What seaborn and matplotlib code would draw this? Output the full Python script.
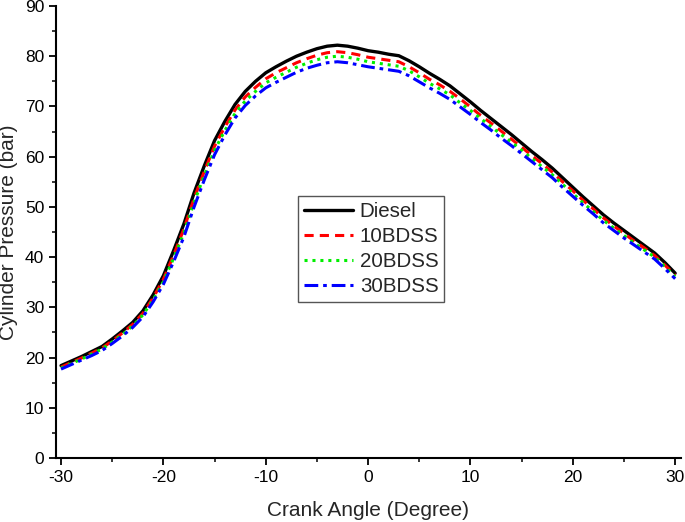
"""
Cylinder pressure vs crank angle for diesel and BDSS blends
"""
import matplotlib
matplotlib.use("Agg")
import matplotlib.pyplot as plt
import seaborn as sns
import pandas as pd

# crank angle (degree), -30 .. 30 in steps of 1
crank_angle = list(range(-30, 31))

# cylinder pressure (bar)
diesel = [18.4, 19.3, 20.2, 21.2, 22.2, 23.7, 25.3, 27.0, 29.3, 32.5,
          36.3, 41.3, 46.6, 52.8, 58.2, 63.2, 67.0, 70.4, 73.0, 75.0,
          76.7, 77.9, 79.0, 80.0, 80.8, 81.5, 82.0, 82.2, 82.0, 81.6,
          81.1, 80.8, 80.4, 80.1, 79.1, 77.9, 76.6, 75.4, 74.1, 72.5,
          70.9, 69.2, 67.6, 66.0, 64.4, 62.7, 61.0, 59.4, 57.7, 55.8,
          53.9, 52.0, 50.2, 48.4, 46.8, 45.3, 43.8, 42.3, 40.8, 38.9,
          36.8]
bdss10 = [18.1, 19.0, 19.9, 20.9, 21.9, 23.3, 24.9, 26.6, 28.8, 31.9,
          35.6, 40.4, 45.6, 51.7, 57.1, 62.1, 65.9, 69.3, 71.9, 73.8,
          75.5, 76.7, 77.7, 78.7, 79.5, 80.2, 80.7, 80.9, 80.7, 80.3,
          79.8, 79.5, 79.2, 78.9, 77.9, 76.7, 75.4, 74.3, 73.0, 71.5,
          69.9, 68.2, 66.7, 65.1, 63.5, 61.9, 60.2, 58.6, 56.9, 55.0,
          53.2, 51.3, 49.6, 47.8, 46.2, 44.7, 43.2, 41.8, 40.3, 38.4,
          36.4]
bdss20 = [17.9, 18.8, 19.7, 20.7, 21.7, 23.1, 24.6, 26.3, 28.5, 31.5,
          35.1, 39.8, 44.8, 50.9, 56.3, 61.3, 65.2, 68.6, 71.1, 73.0,
          74.7, 75.8, 76.8, 77.8, 78.6, 79.3, 79.8, 80.0, 79.8, 79.4,
          78.9, 78.6, 78.3, 78.0, 77.1, 75.9, 74.6, 73.5, 72.3, 70.7,
          69.2, 67.6, 66.0, 64.4, 62.9, 61.3, 59.6, 58.0, 56.4, 54.5,
          52.7, 50.8, 49.1, 47.3, 45.8, 44.3, 42.8, 41.4, 40.0, 38.1,
          36.1]
bdss30 = [17.7, 18.6, 19.5, 20.4, 21.4, 22.8, 24.3, 26.0, 28.1, 31.1,
          34.6, 39.1, 44.0, 50.0, 55.4, 60.4, 64.3, 67.7, 70.2, 72.1,
          73.7, 74.8, 75.8, 76.8, 77.6, 78.2, 78.7, 78.9, 78.7, 78.3,
          77.9, 77.6, 77.3, 77.0, 76.1, 74.9, 73.7, 72.6, 71.4, 69.9,
          68.4, 66.8, 65.3, 63.7, 62.2, 60.6, 59.0, 57.4, 55.8, 53.9,
          52.1, 50.3, 48.6, 46.8, 45.3, 43.8, 42.4, 41.0, 39.6, 37.7,
          35.7]

fuel_names = ["Diesel", "10BDSS", "20BDSS", "30BDSS"]
series = [diesel, bdss10, bdss20, bdss30]

sns.set_style("ticks")
plt.rcParams['font.family'] = ['Liberation Sans', 'DejaVu Sans']
plt.rcParams['axes.unicode_minus'] = False

df = pd.DataFrame({'Crank Angle': crank_angle})
for name, vals in zip(fuel_names, series):
    df[name] = vals

styles = {
    "Diesel": dict(color="black", linestyle="-", linewidth=2.4),
    "10BDSS": dict(color="#ff0000", linestyle=(0, (3, 2)), linewidth=2.2),
    "20BDSS": dict(color="#00ee00", linestyle=(0, (1, 1.6)), linewidth=2.2),
    "30BDSS": dict(color="#0000ff", linestyle=(0, (4.5, 1.6, 1.2, 1.6)), linewidth=2.2),
}

fig = plt.figure(figsize=(6.85, 5.22), dpi=100)
ax = fig.add_axes([0.0818, 0.1226, 0.9122, 0.8659])

for name in fuel_names:
    sns.lineplot(data=df, x='Crank Angle', y=name, ax=ax, label=name, **styles[name])

ax.set_xlim(-30.49, 30.56)
ax.set_ylim(0, 90)
ax.set_xticks(range(-30, 31, 10))
ax.set_yticks(range(0, 91, 10))
ax.set_xticks(range(-25, 30, 10), minor=True)
ax.set_yticks(range(5, 90, 10), minor=True)
ax.tick_params(which='major', direction='out', length=5, width=1.3, labelsize=12.5, colors='black')
ax.tick_params(which='minor', direction='out', length=3, width=1.3)
for side in ['top', 'right']:
    ax.spines[side].set_visible(False)
for side in ['left', 'bottom']:
    ax.spines[side].set_linewidth(1.5)
    ax.spines[side].set_color('black')

ax.set_xlabel('Crank Angle (Degree)', fontsize=15, labelpad=12)
ax.set_ylabel('Cylinder Pressure (bar)', fontsize=15, labelpad=5)

leg = ax.legend(loc='upper left', bbox_to_anchor=(0.435, 0.6245), bbox_transform=fig.transFigure,
                borderaxespad=0, fontsize=14.8, handlelength=2.4, handletextpad=0.33,
                labelspacing=0.3, borderpad=0.28, fancybox=False, framealpha=1)
leg.get_frame().set_edgecolor('#555555')
leg.get_frame().set_linewidth(1.0)

plt.savefig('out.png', dpi=100)
